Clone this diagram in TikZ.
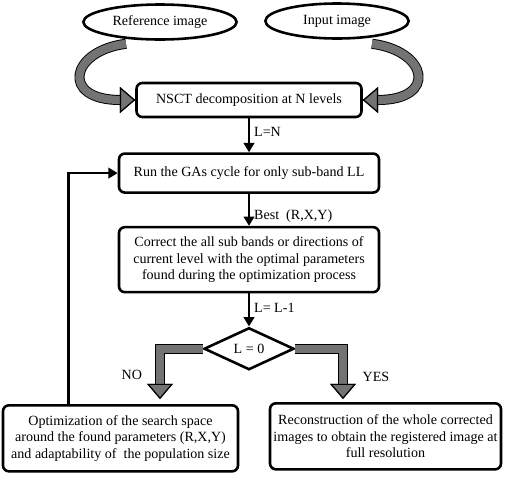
\documentclass[tikz,border=0pt]{standalone}
\usepackage{fontspec}
\setmainfont{Liberation Serif}
\usetikzlibrary{positioning,shapes.geometric,arrows.meta}

\begin{document}
\begin{tikzpicture}[
    font=\fontsize{12}{14}\selectfont,
    blk/.style={draw, line width=2.2pt, rounded corners=5pt, align=center, inner sep=0pt},
    oval/.style={draw, ellipse, line width=2.2pt, inner sep=0pt},
    dec/.style={draw, diamond, line width=2.2pt, inner sep=0pt},
    flow/.style={-{Triangle[length=8pt,width=9pt]}, line width=2.2pt},
    fat/.style={draw=black!55, line width=7pt, preaction={draw=black, line width=8.6pt},
        -{Triangle[length=13pt,width=22pt,color=black,fill=black!55,line width=1pt]}}
    ]
    \useasboundingbox (0,0) rectangle (15.27,-14.28);
    \node [oval, minimum width=4.6cm, minimum height=1.05cm] (ref) at (4.8,-0.66) {Reference image};
    \node [oval, minimum width=4.3cm, minimum height=1.05cm] (inp) at (10.11,-0.63) {Input image};
    \node [blk, minimum width=6.75cm, minimum height=1.02cm] (nsct) at (7.47,-3.0) {NSCT decomposition at N levels};
    \node [blk, below=1.02cm of nsct, minimum width=7.8cm, minimum height=1.17cm] (run) {Run the GAs cycle for only sub-band LL};
    \node [blk, below=0.96cm of run, minimum width=7.8cm, minimum height=1.95cm] (corr) {Correct the all sub bands or directions of\\ current level with the optimal parameters\\ found during the optimization process};
    \node [dec, below=0.99cm of corr, minimum width=2.7cm, minimum height=1.26cm] (test) {L = 0};
    \node [blk, below=0.99cm of test, xshift=-3.855cm, minimum width=7.05cm, minimum height=1.98cm] (opt) {Optimization of the search space\\ around the found parameters (R,X,Y)\\ and adaptability of\ \ the population size};
    \node [blk, below=0.93cm of test, xshift=4.095cm, minimum width=6.93cm, minimum height=1.98cm] (rec) {Reconstruction of the whole corrected\\ images to obtain the registered image at\\ full resolution};

    % inputs into the decomposition
    \draw [fat] ([xshift=-1.02cm, yshift=-0.09cm]ref.south) .. controls +(-1.68,-0.21) and +(-2.25,0) .. (nsct.west);
    \draw [fat] ([xshift=1.05cm, yshift=-0.12cm]inp.south) .. controls +(1.68,-0.21) and +(2.25,0) .. (nsct.east);

    \draw [flow] (nsct) -- node [right, pos=0.4] {L=N} (run);
    \draw [flow] (run) -- node [right, pos=0.7] {Best\ \ (R,X,Y)} (corr);
    \draw [flow] (corr) -- node [right, pos=0.45] {L= L-1} (test);

    % decision
    \draw [fat] (test.west) -| node [pos=0.76, left=0.3cm] {NO} ([xshift=1.185cm, yshift=0.15cm]opt.north);
    \draw [fat] (test.east) -| node [pos=0.78, right=0.35cm] {YES} ([xshift=-1.275cm, yshift=0.09cm]rec.north);

    \draw [flow] ([xshift=2.01cm]opt.north west) |- (run.west);
\end{tikzpicture}
\end{document}
